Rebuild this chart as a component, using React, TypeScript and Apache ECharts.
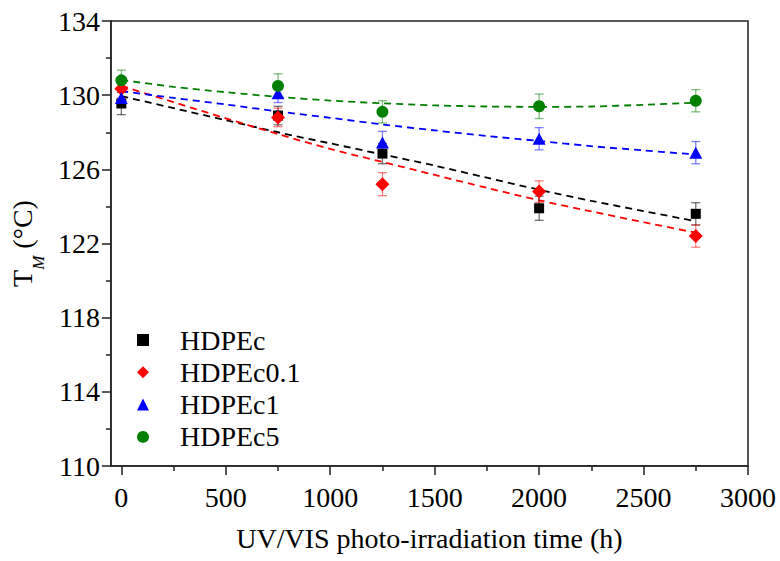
import React, { useEffect, useRef } from "react";
import * as echarts from "echarts";

const FONT = "Liberation Serif";

// Measurement times (h)
const times = [0, 750, 1250, 2000, 2750];

// Measured T_M values (°C)
const hdpecVals = [129.55, 128.9, 126.85, 123.9, 123.6];
const hdpec01Vals = [130.35, 128.8, 125.2, 124.8, 122.4];
const hdpec1Vals = [129.85, 130.1, 127.45, 127.65, 126.9];
const hdpec5Vals = [130.8, 130.5, 129.1, 129.4, 129.7];

// Error bars (±)
const hdpecErr = [0.6, 0.5, 0.55, 0.65, 0.6];
const hdpec01Err = [0.5, 0.5, 0.62, 0.58, 0.6];
const hdpec1Err = [0.5, 0.5, 0.6, 0.6, 0.6];
const hdpec5Err = [0.55, 0.65, 0.6, 0.66, 0.6];

// Fit curves (dashed)
const fitTimes = [0, 250, 500, 750, 1000, 1250, 1500, 1750, 2000, 2250, 2500, 2750];
const hdpecFit = [129.95, 129.3, 128.65, 128.0, 127.4, 126.8, 126.2, 125.55, 124.9, 124.3, 123.75, 123.2];
const hdpec01Fit = [130.5, 129.62, 128.75, 127.9, 127.1, 126.4, 125.7, 125.0, 124.33, 123.73, 123.15, 122.58];
const hdpec1Fit = [130.22, 129.85, 129.5, 129.12, 128.78, 128.42, 128.1, 127.8, 127.53, 127.25, 127.02, 126.8];
const hdpec5Fit = [130.82, 130.45, 130.16, 129.91, 129.71, 129.56, 129.45, 129.39, 129.37, 129.39, 129.48, 129.6];

// Axis ticks
const xTicks = [0, 500, 1000, 1500, 2000, 2500, 3000];
const xMinor = [250, 750, 1250, 1750, 2250, 2750];
const yTicks = [110, 114, 118, 122, 126, 130, 134];
const yMinor = [112, 116, 120, 124, 128, 132];

const names = ["HDPEc", "HDPEc0.1", "HDPEc1", "HDPEc5"];
const colors = ["#000000", "#ff0000", "#0000ff", "#008000"];
const errColors = ["rgba(0,0,0,0.55)", "rgba(255,0,0,0.5)", "rgba(0,0,255,0.5)", "rgba(0,128,0,0.5)"];
const symbols = ["rect", "diamond", "triangle", "circle"];
const symbolSizes: any[] = [10, [14, 14], [13, 12], 12];

const valsAll = [hdpecVals, hdpec01Vals, hdpec1Vals, hdpec5Vals];
const errAll = [hdpecErr, hdpec01Err, hdpec1Err, hdpec5Err];
const fitAll = [hdpecFit, hdpec01Fit, hdpec1Fit, hdpec5Fit];

const axisColor = "#222";

export default function App() {
  const ref = useRef<HTMLDivElement>(null);

  useEffect(() => {
    if (!ref.current) return;
    const chart = echarts.init(ref.current, undefined, { renderer: "svg" });

    const fitSeries = names.map((n, i) => ({
      type: "line",
      name: n + " fit",
      data: fitTimes.map((t, k) => [t, fitAll[i][k]]),
      showSymbol: false,
      symbol: "none",
      smooth: 0.3,
      lineStyle: { color: colors[i], width: 1.8, type: [7, 5], opacity: 1 },
      z: 2,
      silent: true,
    }));

    const errSeries = names.map((n, i) => ({
      type: "custom",
      name: n + " err",
      data: times.map((t, k) => [t, valsAll[i][k] - errAll[i][k], valsAll[i][k] + errAll[i][k]]),
      encode: { x: 0, y: [1, 2] },
      renderItem: (params: any, api: any) => {
        const x = api.value(0);
        const lo = api.coord([x, api.value(1)]);
        const hi = api.coord([x, api.value(2)]);
        const w = 4.5;
        const st = { stroke: errColors[i], lineWidth: 1.3 };
        return {
          type: "group",
          children: [
            { type: "line", shape: { x1: lo[0], y1: lo[1], x2: hi[0], y2: hi[1] }, style: st },
            { type: "line", shape: { x1: lo[0] - w, y1: lo[1], x2: lo[0] + w, y2: lo[1] }, style: st },
            { type: "line", shape: { x1: hi[0] - w, y1: hi[1], x2: hi[0] + w, y2: hi[1] }, style: st },
          ],
        };
      },
      z: 3,
      silent: true,
    }));

    const scatterSeries = names.map((n, i) => ({
      type: "scatter",
      name: n,
      data: times.map((t, k) => [t, valsAll[i][k]]),
      symbol: symbols[i],
      symbolSize: symbolSizes[i],
      symbolKeepAspect: true,
      itemStyle: { color: colors[i], opacity: 1 },
      z: 4,
    }));

    const labelFmt = (v: number) => String(v);

    const option: any = {
      animation: false,
      backgroundColor: "#ffffff",
      textStyle: { fontFamily: FONT, fontSize: 28, color: "#000" },
      grid: {
        left: 110,
        right: 32,
        top: 21,
        bottom: 95,
        show: true,
        borderColor: axisColor,
        borderWidth: 1.5,
        backgroundColor: "transparent",
      },
      legend: {
        data: names,
        orient: "vertical",
        left: 137,
        top: 326,
        padding: 0,
        itemGap: 4.3,
        itemWidth: 12,
        itemHeight: 12,
        symbolKeepAspect: true,
        itemStyle: { opacity: 1 },
        textStyle: { fontFamily: FONT, fontSize: 28, lineHeight: 28, color: "#000", padding: [0, 0, 0, 26] },
      },
      xAxis: [
        {
          type: "value",
          min: -50,
          max: 3000,
          position: "bottom",
          name: "UV/VIS photo-irradiation time (h)",
          nameLocation: "middle",
          nameGap: 58,
          nameTextStyle: { fontFamily: FONT, fontSize: 28, color: "#000" },
          axisLine: { show: true, onZero: false, lineStyle: { color: axisColor, width: 1.5 } },
          axisTick: { show: true, customValues: xTicks, length: 9, lineStyle: { color: axisColor, width: 1.5 } },
          axisLabel: {
            customValues: xTicks,
            formatter: labelFmt,
            margin: 17,
            fontFamily: FONT,
            fontSize: 28,
            color: "#000",
          },
          splitLine: { show: false },
        },
        {
          type: "value",
          min: -50,
          max: 3000,
          position: "bottom",
          axisLine: { show: false, onZero: false },
          axisTick: { show: true, customValues: xMinor, length: 5, lineStyle: { color: axisColor, width: 1.5 } },
          axisLabel: { show: false },
          splitLine: { show: false },
        },
      ],
      yAxis: [
        {
          type: "value",
          min: 110,
          max: 134,
          position: "left",
          name: "{t|T}{s|M}{t| (°C)}",
          nameLocation: "middle",
          nameRotate: 90,
          nameGap: 62,
          nameTextStyle: {
            rich: {
              t: { fontFamily: FONT, fontSize: 28, color: "#000", lineHeight: 28, verticalAlign: "top" },
              s: {
                fontFamily: FONT,
                fontSize: 17,
                fontStyle: "italic",
                color: "#000",
                lineHeight: 16,
                padding: [22, 0, 0, 0],
                verticalAlign: "top",
              },
            },
          },
          axisLine: { show: true, onZero: false, lineStyle: { color: axisColor, width: 1.5 } },
          axisTick: { show: true, customValues: yTicks, length: 9, lineStyle: { color: axisColor, width: 1.5 } },
          axisLabel: {
            customValues: yTicks,
            formatter: labelFmt,
            margin: 11,
            fontFamily: FONT,
            fontSize: 28,
            color: "#000",
          },
          splitLine: { show: false },
        },
        {
          type: "value",
          min: 110,
          max: 134,
          position: "left",
          axisLine: { show: false, onZero: false },
          axisTick: { show: true, customValues: yMinor, length: 5, lineStyle: { color: axisColor, width: 1.5 } },
          axisLabel: { show: false },
          splitLine: { show: false },
        },
      ],
      series: [...fitSeries, ...errSeries, ...scatterSeries],
    };

    chart.setOption(option);
    return () => chart.dispose();
  }, []);

  return (
    <div
      ref={ref}
      style={{ position: "fixed", left: 0, top: 0, width: 780, height: 561, background: "#fff" }}
    />
  );
}
